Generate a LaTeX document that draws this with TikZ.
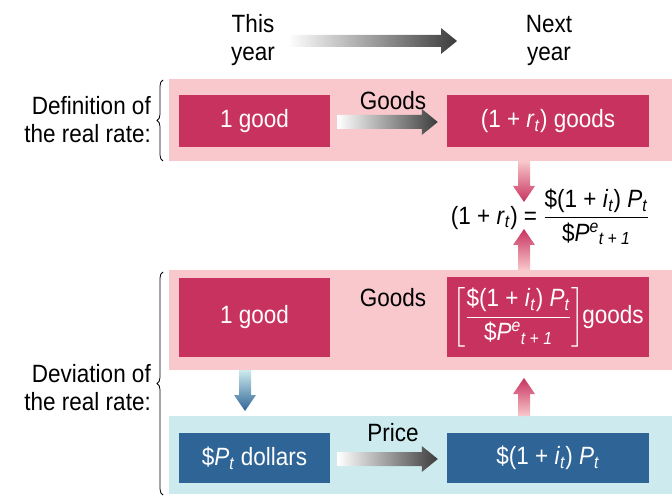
\documentclass[tikz,border=0pt]{standalone}
\usepackage{fontspec}
\setmainfont{Liberation Sans}[FakeStretch=0.9]
\usepackage{amsmath}
\usetikzlibrary{calc,decorations.pathreplacing}
\definecolor{crim}{HTML}{C8325F}
\definecolor{pinkband}{HTML}{F8C8CC}
\definecolor{bluebox}{HTML}{2E6496}
\definecolor{cyanband}{HTML}{CDEBEE}
\definecolor{arrowdark}{HTML}{3C3C3C}
\newcommand\sbt[1]{\textsubscript{\textit{#1}}}
\newcommand\spe[1]{\textsuperscript{\textit{#1}}}
\begin{document}
\begin{tikzpicture}[x=1pt,y=-1pt,
  txt/.style={font=\fontsize{25}{28}\selectfont, inner sep=0pt},
  boxc/.style={txt, text=white, minimum width=151pt, minimum height=52pt, fill=crim},
  boxb/.style={txt, text=white, minimum width=151pt, minimum height=50pt, fill=bluebox},
  lbl/.style={txt, align=right, anchor=east},
  brc/.style={draw=black, line width=0.8pt, decorate, decoration={brace, amplitude=6pt}}]
\useasboundingbox (0,0) rectangle (672,497);
% bands
\fill[pinkband] (169,79) rectangle (672,161);
\fill[pinkband] (169,270) rectangle (672,370);
\fill[cyanband] (169,416) rectangle (672,494);
% top labels
\node[txt, align=center] (this) at (253,40) {This\\year};
\node[txt, align=center] (next) at (549,40) {Next\\year};
\coordinate (ta) at (288,41);
\coordinate (tb) at (457,41);
\shade[left color=white, right color=arrowdark]
  let \p1=(ta), \p2=(tb) in
  (\x1,\y1-6) -- (\x2-16,\y1-6) -- (\x2-16,\y1-13) -- (\x2,\y1) -- (\x2-16,\y1+13) -- (\x2-16,\y1+6) -- (\x1,\y1+6) -- cycle;
% row 1
\node[boxc] (a1) at (254.5,121) {1 good};
\node[boxc, minimum width=202pt] (a2) at (548,121) {(1 + \textit{r}\sbt{t}) goods};
\node[txt] (g1) at (393,101) {Goods};
% row 2
\node[boxc, minimum height=79pt] (b1) at (254.5,317.5) {1 good};
\node[boxc, minimum width=202pt, minimum height=80pt] (b2) at (548,317) {$\left[\dfrac{\text{\$(1 + \textit{i}\sbt{t}) \textit{P}\sbt{t}}}{\text{\$\textit{P}\spe{e}\sbt{t + 1}}}\right]$\kern-2pt goods};
\node[txt] (g2) at (393,298) {Goods};
% row 3
\node[boxb] (c1) at (254.5,458) {\$\textit{P}\sbt{t} dollars};
\node[boxb, minimum width=202pt] (c2) at (548,458) {\$(1 + \textit{i}\sbt{t}) \textit{P}\sbt{t}};
\node[txt] (pr) at (393,433) {Price};
% equation
\node[txt] (eq) at (550,217) {(1 + \textit{r}\sbt{t}) = $\dfrac{\text{\$(1 + \textit{i}\sbt{t}) \textit{P}\sbt{t}}}{\text{\$\textit{P}\spe{e}\sbt{t + 1}}}$};
% left labels
\node[lbl] (def) at (151,120) {Definition of\\the real rate:};
\node[lbl] (dev) at (151,388) {Deviation of\\the real rate:};
\draw[brc] (163,161) -- (163,80);
\draw[brc] (163,495) -- (163,272);
% horizontal gradient arrows
\foreach \s/\e in {a1/a2, c1/c2}{
  \shade[left color=white, right color=arrowdark]
    let \p1=($(\s.east)+(7,1)$), \p2=($(\e.west)+(-9,1)$) in
    (\x1,\y1-7) -- (\x2-16,\y1-7) -- (\x2-16,\y1-13) -- (\x2,\y1) -- (\x2-16,\y1+13) -- (\x2-16,\y1+7) -- (\x1,\y1+7) -- cycle;
}
% vertical arrows (canvas y points up)
\coordinate (d1) at (524,161);
\coordinate (d2) at (524,202);
\shade[top color=pinkband, bottom color=crim]
  let \p1=(d1), \p2=(d2) in
  (\x1-6,\y1) -- (\x1+6,\y1) -- (\x1+6,\y2+16) -- (\x1+11,\y2+16) -- (\x1,\y2) -- (\x1-11,\y2+16) -- (\x1-6,\y2+16) -- cycle;
\coordinate (u1) at (524,270);
\coordinate (u2) at (524,229);
\shade[bottom color=pinkband, top color=crim]
  let \p1=(u1), \p2=(u2) in
  (\x1-6,\y1) -- (\x1+6,\y1) -- (\x1+6,\y2-16) -- (\x1+11,\y2-16) -- (\x1,\y2) -- (\x1-11,\y2-16) -- (\x1-6,\y2-16) -- cycle;
\coordinate (w1) at (524,416);
\coordinate (w2) at (524,378);
\shade[bottom color=pinkband, top color=crim]
  let \p1=(w1), \p2=(w2) in
  (\x1-6,\y1) -- (\x1+6,\y1) -- (\x1+6,\y2-16) -- (\x1+11,\y2-16) -- (\x1,\y2) -- (\x1-11,\y2-16) -- (\x1-6,\y2-16) -- cycle;
\coordinate (v1) at (245,370);
\coordinate (v2) at (245,411);
\shade[top color=cyanband, bottom color=bluebox]
  let \p1=(v1), \p2=(v2) in
  (\x1-6,\y1) -- (\x1+6,\y1) -- (\x1+6,\y2+16) -- (\x1+11,\y2+16) -- (\x1,\y2) -- (\x1-11,\y2+16) -- (\x1-6,\y2+16) -- cycle;
\end{tikzpicture}
\end{document}
